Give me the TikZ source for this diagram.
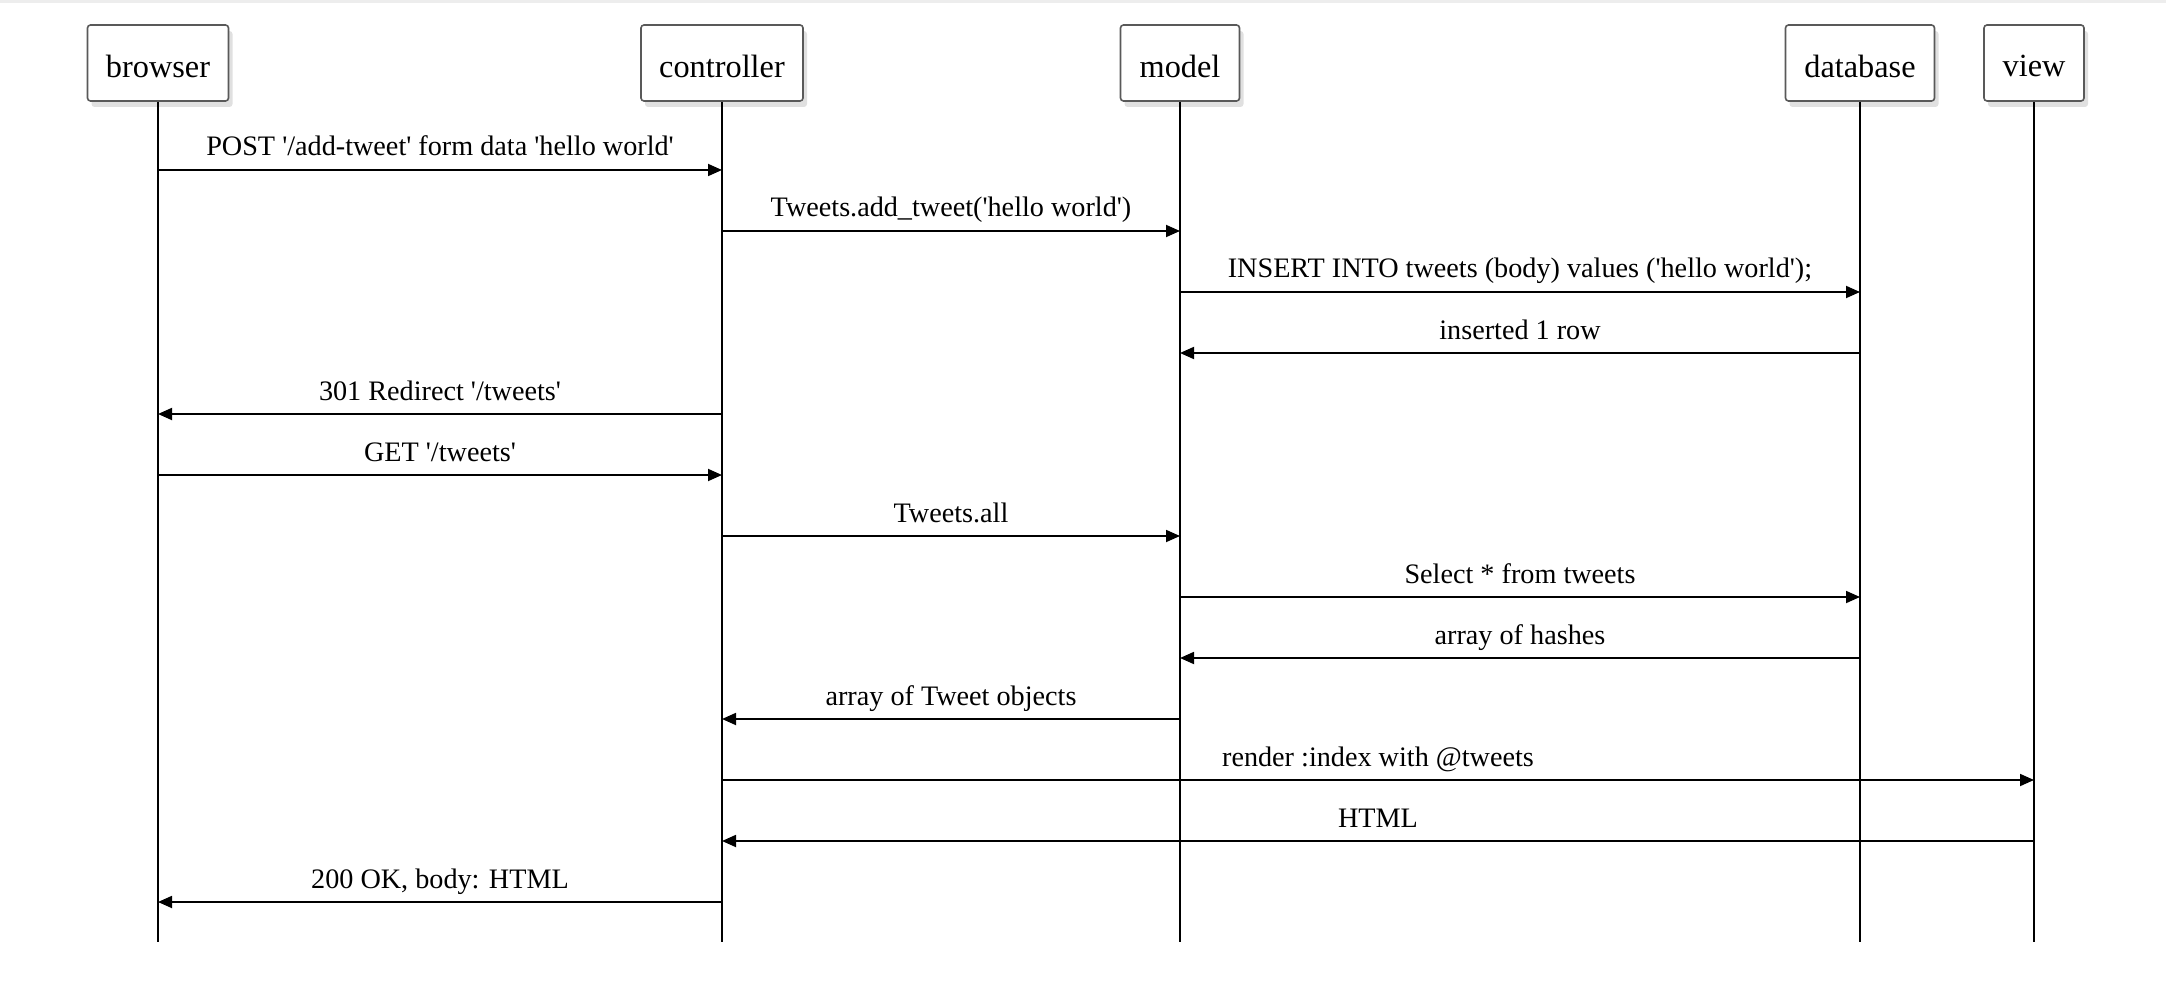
\documentclass[tikz,border=0pt]{standalone}
\usepackage{fontspec}
\setmainfont{Liberation Serif}
\usetikzlibrary{shadows,arrows.meta}
\newcommand{\sq}{\textquotesingle}
\begin{document}
\begin{tikzpicture}[x=1pt,y=-1pt,
  actorbox/.style={draw=black!65, line width=1.6pt, fill=white, rounded corners=3pt,
    minimum height=76pt, inner sep=0pt,
    drop shadow={shadow xshift=4pt, shadow yshift=-6pt, opacity=0.12, fill=black}},
  actortext/.style={font=\fontsize{32.3}{37}\selectfont, yshift=-3pt, inner sep=0pt},
  lifeline/.style={line width=1.6pt, black},
  msg/.style={line width=1.8pt, -{Triangle[length=14pt,width=12pt]}},
  msglabel/.style={anchor=base, yshift=14pt, font=\fontsize{28.2}{33}\selectfont, inner sep=0pt}]
\useasboundingbox (0,0) rectangle (2166,1008);
\fill[black!7] (0,0) rectangle (2166,3);
% actors
\node[actorbox, minimum width=141pt, label={[actortext]center:browser}] (browser) at (158,63) {};
\node[actorbox, minimum width=162pt, label={[actortext]center:controller}] (controller) at (722,63) {};
\node[actorbox, minimum width=119pt, label={[actortext]center:model}] (model) at (1180,63) {};
\node[actorbox, minimum width=149pt, label={[actortext]center:database}] (database) at (1860,63) {};
\node[actorbox, minimum width=100pt, label={[actortext]center:view}] (view) at (2034,63) {};
% lifeline ends
\coordinate (bottom) at (0,942);
\foreach \a in {browser,controller,model,database,view}
  \draw[lifeline] (\a.south) -- (\a.south |- bottom);
% rows
\foreach \i [evaluate=\i as \yy using 170+61*(\i-1)] in {1,...,13}
  \coordinate (r\i) at (0,\yy);
\draw[msg] (browser |- r1) -- (controller |- r1) node[midway,msglabel] {POST \sq/add-tweet\sq{} form data \sq hello world\sq};
\draw[msg] (controller |- r2) -- (model |- r2) node[midway,msglabel] {Tweets.add\_tweet(\sq hello world\sq)};
\draw[msg] (model |- r3) -- (database |- r3) node[midway,msglabel] {INSERT INTO tweets (body) values (\sq hello world\sq);};
\draw[msg] (database |- r4) -- (model |- r4) node[midway,msglabel] {inserted 1 row};
\draw[msg] (controller |- r5) -- (browser |- r5) node[midway,msglabel] {301 Redirect \sq/tweets\sq};
\draw[msg] (browser |- r6) -- (controller |- r6) node[midway,msglabel] {GET \sq/tweets\sq};
\draw[msg] (controller |- r7) -- (model |- r7) node[midway,msglabel] {Tweets.all};
\draw[msg] (model |- r8) -- (database |- r8) node[midway,msglabel] {Select * from tweets};
\draw[msg] (database |- r9) -- (model |- r9) node[midway,msglabel] {array of hashes};
\draw[msg] (model |- r10) -- (controller |- r10) node[midway,msglabel] {array of Tweet objects};
\draw[msg] (controller |- r11) -- (view |- r11) node[midway,msglabel] {render :index with @tweets};
\draw[msg] (view |- r12) -- (controller |- r12) node[midway,msglabel] {HTML};
\draw[msg] (controller |- r13) -- (browser |- r13) node[midway,msglabel] {200 OK, body: HTML};
\end{tikzpicture}
\end{document}
